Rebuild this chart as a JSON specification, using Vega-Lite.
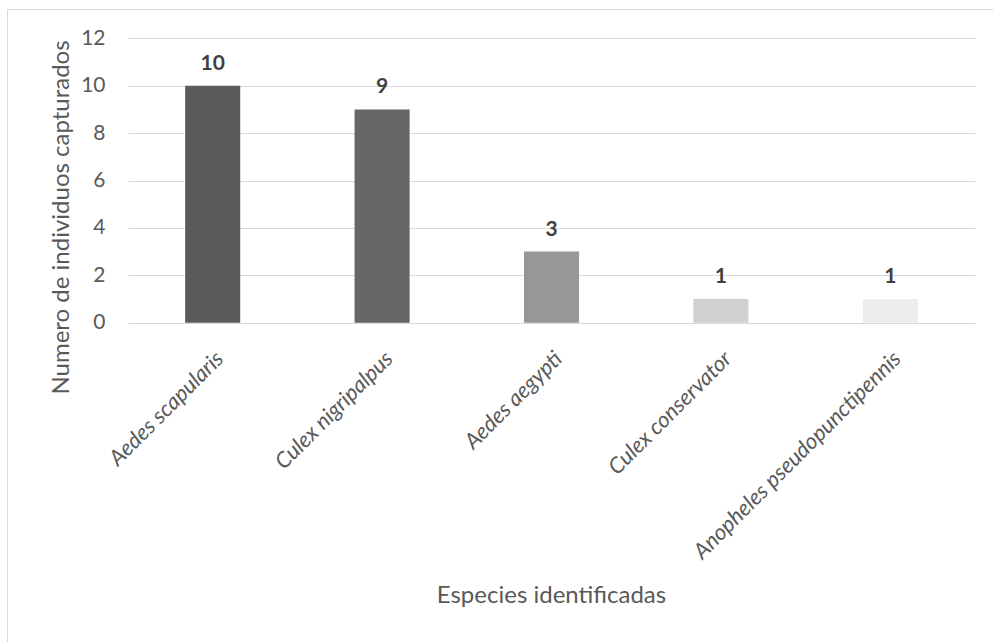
{
  "$schema": "https://vega.github.io/schema/vega-lite/v6.json",
  "width": 986,
  "height": 633,
  "autosize": {"type": "none"},
  "padding": {"left": 7, "top": 9, "right": 0, "bottom": 0},
  "background": "white",
  "config": {
    "font": "Lato",
    "view": {"stroke": "#d9d9d9", "strokeWidth": 1}
  },
  "data": {
    "values": [
      {"especie": "Aedes scapularis", "individuos": 10},
      {"especie": "Culex nigripalpus", "individuos": 9},
      {"especie": "Aedes aegypti", "individuos": 3},
      {"especie": "Culex conservator", "individuos": 1},
      {"especie": "Anopheles pseudopunctipennis", "individuos": 1}
    ]
  },
  "encoding": {
    "x": {
      "field": "especie",
      "type": "nominal",
      "sort": null,
      "scale": {"range": [121, 968], "paddingInner": 0.675, "paddingOuter": 0.3375},
      "axis": {
        "orient": "bottom",
        "offset": -319.3,
        "domain": false,
        "ticks": false,
        "tickSize": 0,
        "grid": false,
        "labelAngle": -45,
        "labelAlign": "right",
        "labelBaseline": "top",
        "labelPadding": 25,
        "labelFont": "Lato",
        "labelFontStyle": "italic",
        "labelFontSize": 22,
        "labelColor": "#595959",
        "labelLimit": 0,
        "title": "Especies identificadas",
        "titleFont": "Lato",
        "titleFontSize": 24,
        "titleFontWeight": "normal",
        "titleColor": "#595959",
        "titleX": 544,
        "titleY": 280,
        "titleAlign": "center",
        "titleBaseline": "alphabetic"
      }
    },
    "y": {
      "field": "individuos",
      "type": "quantitative",
      "scale": {"domain": [0, 12], "range": [313.7, 29.3], "nice": false},
      "axis": {
        "orient": "left",
        "offset": -121,
        "values": [0, 2, 4, 6, 8, 10, 12],
        "domain": false,
        "ticks": false,
        "tickSize": 0,
        "grid": true,
        "gridColor": "#d9d9d9",
        "gridWidth": 1,
        "labelFont": "Lato",
        "labelFontSize": 21,
        "labelColor": "#595959",
        "labelPadding": 23,
        "title": "Numero de individuos capturados",
        "titleFont": "Lato",
        "titleFontSize": 24,
        "titleFontWeight": "normal",
        "titleColor": "#595959",
        "titleAngle": -90,
        "titleX": -67,
        "titleY": 208,
        "titleAlign": "center",
        "titleBaseline": "middle"
      }
    }
  },
  "layer": [
    {
      "mark": {"type": "bar"},
      "encoding": {
        "color": {
          "field": "especie",
          "type": "nominal",
          "sort": null,
          "scale": {"range": ["#5a5a5a", "#666666", "#979797", "#d0d0d0", "#ececec"]},
          "legend": null
        }
      }
    },
    {
      "mark": {
        "type": "text",
        "baseline": "alphabetic",
        "dy": -16,
        "font": "Lato",
        "fontSize": 21,
        "fontWeight": "bold",
        "color": "#404040"
      },
      "encoding": {"text": {"field": "individuos", "type": "quantitative"}}
    }
  ]
}
